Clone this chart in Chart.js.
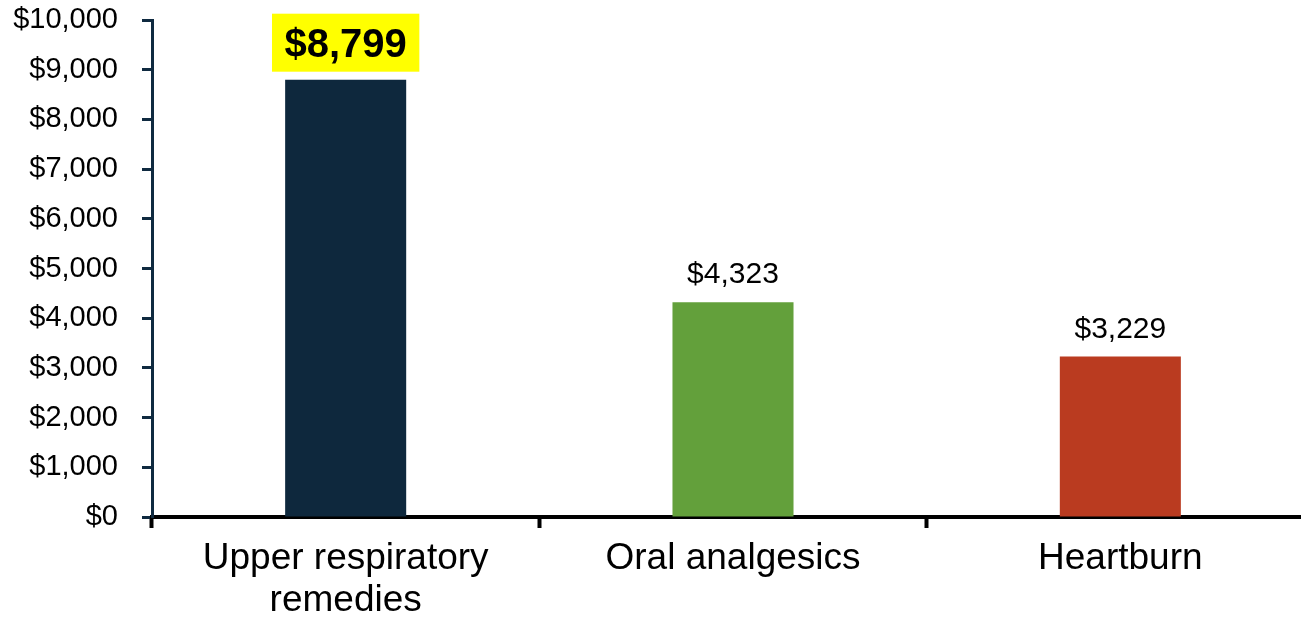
<!DOCTYPE html>
<html>
<head>
<meta charset="utf-8">
<title>Sales by category</title>
<script src="https://cdn.jsdelivr.net/npm/chart.js@4.4.1/dist/chart.umd.min.js"></script>
<style>
  html, body { margin: 0; padding: 0; overflow: hidden; background: #ffffff; }
  #wrap { position: relative; width: 1314px; height: 620px; }
</style>
</head>
<body>
<div id="wrap"><canvas id="chart"></canvas></div>
<script>
// Category names (multi-line labels are arrays)
const categories = [["Upper respiratory", "remedies"], "Oral analgesics", "Heartburn"];
// Sales in dollars
const salesValues = [8799, 4323, 3229];
// One fill per bar
const barColors = ["#0e283d", "#63a03b", "#ba3b20"];
// Value axis ticks
const yTickValues = [0, 1000, 2000, 3000, 4000, 5000, 6000, 7000, 8000, 9000, 10000];
// Bar whose value label gets the yellow callout
const highlightIndex = 0;

const FONT = "'Liberation Sans', Arial, sans-serif";
const fmtMoney = v => "$" + Number(v).toLocaleString("en-US");

// Value labels above each bar
const valueLabels = {
  id: "valueLabels",
  afterDatasetsDraw(chart) {
    const ctx = chart.ctx;
    const meta = chart.getDatasetMeta(0);
    const data = chart.data.datasets[0].data;
    meta.data.forEach((bar, i) => {
      const text = fmtMoney(data[i]);
      ctx.save();
      ctx.textAlign = "center";
      ctx.textBaseline = "alphabetic";
      if (i === highlightIndex) {
        ctx.font = "bold 40px " + FONT;
        const w = ctx.measureText(text).width + 25;
        const boxBottom = bar.y - 8;
        const boxH = 58;
        ctx.fillStyle = "#ffff00";
        ctx.fillRect(bar.x - w / 2, boxBottom - boxH, w, boxH);
        ctx.fillStyle = "#000000";
        ctx.fillText(text, bar.x, boxBottom - 15);
      } else {
        ctx.font = "30px " + FONT;
        ctx.fillStyle = "#000000";
        ctx.fillText(text, bar.x, bar.y - 19);
      }
      ctx.restore();
    });
  }
};

new Chart(document.getElementById("chart"), {
  type: "bar",
  data: {
    labels: categories,
    datasets: [{
      data: salesValues,
      backgroundColor: barColors,
      borderWidth: 0,
      barPercentage: 0.3125,
      categoryPercentage: 1.0
    }]
  },
  options: {
    responsive: true,
    maintainAspectRatio: false,
    animation: false,
    layout: { padding: { top: 20, right: 0, bottom: 0, left: 0 } },
    plugins: {
      legend: { display: false },
      tooltip: { enabled: false }
    },
    scales: {
      x: {
        offset: true,
        grid: {
          display: true,
          drawOnChartArea: false,
          drawTicks: true,
          tickLength: 11,
          tickWidth: 4,
          tickColor: "#000000",
          offset: true
        },
        border: { display: true, color: "#000000", width: 4 },
        ticks: {
          color: "#000000",
          padding: 10,
          maxRotation: 0,
          autoSkip: false,
          font: { family: FONT, size: 37, lineHeight: 1.13 }
        },
        afterFit(scale) {
          scale.height = 103;
          scale.paddingLeft = 0;
          scale.paddingRight = 0;
        }
      },
      y: {
        min: 0,
        max: 10000,
        grid: {
          display: true,
          drawOnChartArea: false,
          drawTicks: true,
          tickLength: 10,
          tickWidth: 3,
          tickColor: "#0f2a40"
        },
        border: { display: true, color: "#0f2a40", width: 3 },
        afterBuildTicks(scale) {
          scale.ticks = yTickValues.map(v => ({ value: v }));
        },
        ticks: {
          color: "#000000",
          padding: 24,
          font: { family: FONT, size: 29 },
          callback: v => fmtMoney(v)
        },
        afterFit(scale) {
          scale.width = 152;
          scale.paddingTop = 0;
          scale.paddingBottom = 0;
        }
      }
    }
  },
  plugins: [valueLabels]
});
</script>
</body>
</html>
